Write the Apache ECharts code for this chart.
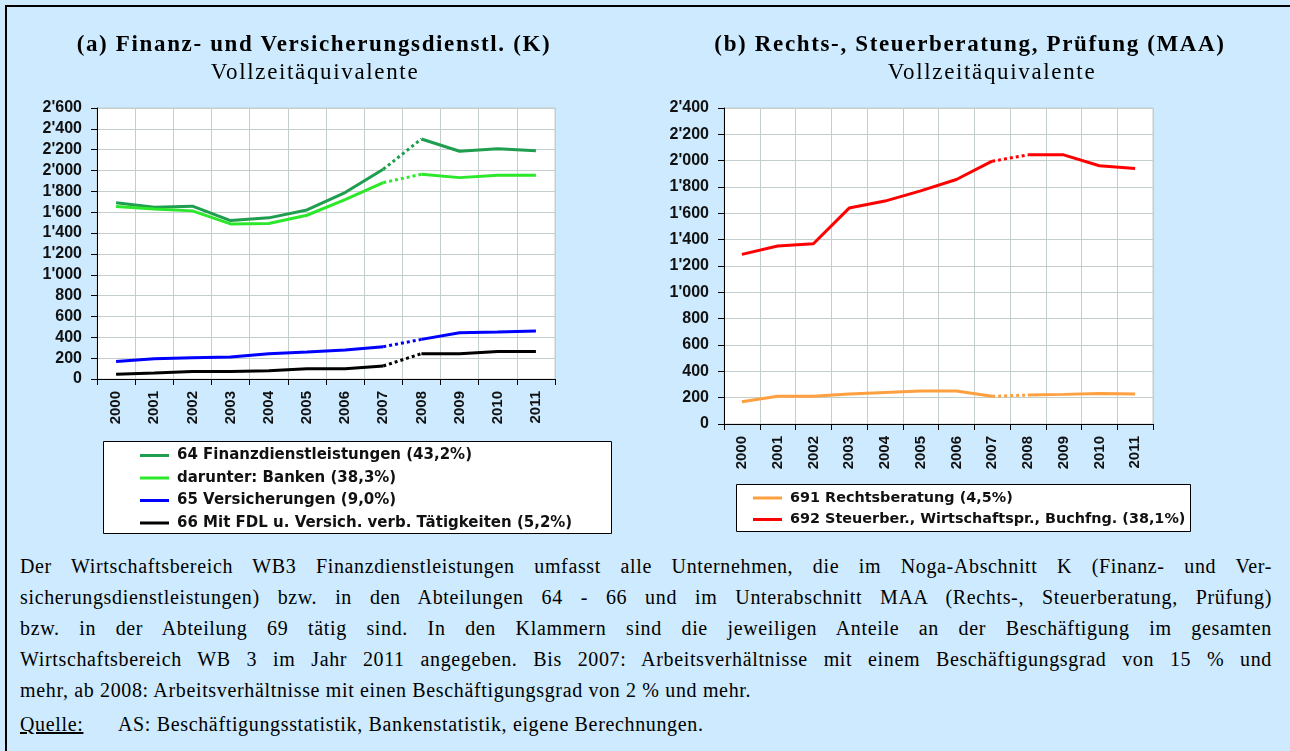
<!DOCTYPE html>
<html>
<head>
<meta charset="utf-8">
<script src="https://cdn.jsdelivr.net/npm/echarts@6/dist/echarts.min.js"></script>
<style>
  body { margin: 0; background: #cdeafe; width: 1290px; height: 751px; overflow: hidden; position: relative; }
  #frame { position: absolute; left: 5px; top: 5px; width: 1290px; height: 751px; border-top: 2px solid #000; border-left: 2px solid #000; }
  #chart { position: absolute; left: 0; top: 0; width: 1290px; height: 545px; }
  .ttl { position: absolute; transform: translate(-50%, -50%); white-space: nowrap; font-family: "Liberation Serif", serif; font-size: 23px; letter-spacing: 1.65px; color: #000; }
  .ttl.b { font-weight: bold; }
  #note { position: absolute; left: 20px; top: 551px; width: 1252px; font-family: "Liberation Serif", serif; font-size: 20px; letter-spacing: 0.65px; color: #000; }
  #note .ln { height: 31px; line-height: 31px; text-align: justify; text-align-last: justify; white-space: nowrap; }
  #note .last { text-align: left; text-align-last: left; }
  #note .src { margin-top: 3px; height: 31px; line-height: 31px; }
  #note .src .lbl { display: inline-block; width: 98px; }
</style>
</head>
<body>
<div id="frame"></div>
<div id="chart"></div>
<div class="ttl b" style="left:314px; top:44px">(a) Finanz- und Versicherungsdienstl. (K)</div>
<div class="ttl" style="left:315px; top:72px">Vollzeitäquivalente</div>
<div class="ttl b" style="left:970px; top:44px">(b) Rechts-, Steuerberatung, Prüfung (MAA)</div>
<div class="ttl" style="left:992px; top:72px">Vollzeitäquivalente</div>
<div id="note">
  <div class="ln">Der Wirtschaftsbereich WB3 Finanzdienstleistungen umfasst alle Unternehmen, die im Noga-Abschnitt K (Finanz- und Ver-</div>
  <div class="ln">sicherungsdienstleistungen) bzw. in den Abteilungen 64 - 66 und im Unterabschnitt MAA (Rechts-, Steuerberatung, Prüfung)</div>
  <div class="ln">bzw. in der Abteilung 69 tätig sind. In den Klammern sind die jeweiligen Anteile an der Beschäftigung im gesamten</div>
  <div class="ln">Wirtschaftsbereich WB 3 im Jahr 2011 angegeben. Bis 2007: Arbeitsverhältnisse mit einem Beschäftigungsgrad von 15 % und</div>
  <div class="ln last">mehr, ab 2008: Arbeitsverhältnisse mit einen Beschäftigungsgrad von 2 % und mehr.</div>
  <div class="src"><span class="lbl"><u>Quelle:</u></span>AS: Beschäftigungsstatistik, Bankenstatistik, eigene Berechnungen.</div>
</div>
<script>
// Jahre (Kategorien)
var years = ['2000', '2001', '2002', '2003', '2004', '2005', '2006', '2007', '2008', '2009', '2010', '2011']

// (a) Finanz- und Versicherungsdienstl.
var finanzDL = [1690, 1648, 1658, 1520, 1546, 1622, 1789, 2012, 2303, 2185, 2210, 2191]
var banken = [1654, 1632, 1613, 1488, 1492, 1571, 1721, 1884, 1964, 1932, 1955, 1955]
var versicherungen = [169, 195, 204, 211, 243, 259, 278, 310, 380, 444, 450, 460]
var mitFDL = [45, 57, 73, 73, 80, 99, 99, 125, 243, 243, 265, 265]

// (b) Rechts-, Steuerberatung, Prüfung
var rechtsberatung = [169, 210, 210, 227, 240, 250, 250, 210, 220, 225, 232, 227]
var steuerberatung = [1288, 1352, 1369, 1640, 1693, 1771, 1857, 1996, 2044, 2044, 1961, 1940]

var BREAK = 7 // Bruch zwischen 2007 und 2008
var GRID_COLOR = '#c4cfcc'

function fmt(v) {
  return v >= 1000 ? Math.floor(v / 1000) + "'" + String(v % 1000).padStart(3, '0') : String(v)
}

// eine Reihe -> durchgezogen bis 2007, gepunktet 2007-2008, durchgezogen ab 2008
function segments(name, values, color, idx) {
  var base = { name: name, type: 'line', xAxisIndex: idx, yAxisIndex: idx, symbol: 'none', color: color, silent: true }
  return [
    Object.assign({}, base, { data: values.map(function (v, i) { return i <= BREAK ? v : null }), lineStyle: { width: 3, color: color } }),
    Object.assign({}, base, { data: values.map(function (v, i) { return i === BREAK || i === BREAK + 1 ? v : null }), lineStyle: { width: 3, color: color, type: [3, 3] } }),
    Object.assign({}, base, { data: values.map(function (v, i) { return i > BREAK ? v : null }), lineStyle: { width: 3, color: color } }),
  ]
}

function xAxis(idx) {
  return {
    type: 'category', gridIndex: idx, data: years, boundaryGap: true,
    axisLine: { lineStyle: { color: '#000', width: 1 } },
    axisTick: { show: true, length: 6, interval: 0, lineStyle: { color: '#000' } },
    axisLabel: { interval: 0, rotate: 90, margin: 12, color: '#111', fontFamily: 'Liberation Sans', fontWeight: 'bold', fontSize: 15 },
    splitLine: { show: true, interval: 0, lineStyle: { color: GRID_COLOR, width: 1 } },
  }
}

function yAxis(idx, max) {
  return {
    type: 'value', gridIndex: idx, min: 0, max: max, interval: 200,
    axisLine: { show: true, lineStyle: { color: '#000', width: 1 } },
    axisTick: { show: true, length: 6, lineStyle: { color: '#000' } },
    axisLabel: { margin: 15, color: '#111', fontFamily: 'Liberation Sans', fontWeight: 'bold', fontSize: 16, formatter: fmt },
    splitLine: { show: true, lineStyle: { color: GRID_COLOR, width: 1 } },
  }
}

function legendText(size) {
  return { color: '#111', fontFamily: 'DejaVu Sans', fontWeight: 'bold', fontSize: size, padding: [0, 0, 0, 3] }
}

var chart = echarts.init(document.getElementById('chart'))
chart.setOption({
  animation: false,
  graphic: [
    // Legendenrahmen
    { type: 'rect', z: 0, shape: { x: 103.5, y: 441.5, width: 508, height: 92 }, style: { fill: '#fff', stroke: '#000', lineWidth: 1 } },
    { type: 'rect', z: 0, shape: { x: 736.5, y: 484.5, width: 454, height: 47 }, style: { fill: '#fff', stroke: '#000', lineWidth: 1 } },
  ],
  grid: [
    { left: 97, top: 108, width: 458, height: 271, show: true, backgroundColor: '#fff', borderColor: GRID_COLOR, borderWidth: 1 },
    { left: 724, top: 108, width: 429, height: 316, show: true, backgroundColor: '#fff', borderColor: GRID_COLOR, borderWidth: 1 },
  ],
  xAxis: [xAxis(0), xAxis(1)],
  yAxis: [yAxis(0, 2600), yAxis(1, 2400)],
  legend: [
    {
      left: 140, top: 448, padding: 0, orient: 'vertical', itemWidth: 29, itemHeight: 3, itemGap: 7.5, icon: 'rect', selectedMode: false, z: 10,
      textStyle: legendText(15),
      data: ['64 Finanzdienstleistungen (43,2%)', 'darunter: Banken (38,3%)', '65 Versicherungen (9,0%)', '66 Mit FDL u. Versich. verb. Tätigkeiten (5,2%)'],
    },
    {
      left: 753, top: 491, padding: 0, orient: 'vertical', itemWidth: 29, itemHeight: 3, itemGap: 7.5, icon: 'rect', selectedMode: false, z: 10,
      textStyle: legendText(14.4),
      data: ['691 Rechtsberatung (4,5%)', '692 Steuerber., Wirtschaftspr., Buchfng. (38,1%)'],
    },
  ],
  series: [].concat(
    segments('64 Finanzdienstleistungen (43,2%)', finanzDL, '#1e9e4e', 0),
    segments('darunter: Banken (38,3%)', banken, '#2be82b', 0),
    segments('65 Versicherungen (9,0%)', versicherungen, '#0000ff', 0),
    segments('66 Mit FDL u. Versich. verb. Tätigkeiten (5,2%)', mitFDL, '#000000', 0),
    segments('691 Rechtsberatung (4,5%)', rechtsberatung, '#ffa040', 1),
    segments('692 Steuerber., Wirtschaftspr., Buchfng. (38,1%)', steuerberatung, '#ff0000', 1)
  ),
})
</script>
</body>
</html>
